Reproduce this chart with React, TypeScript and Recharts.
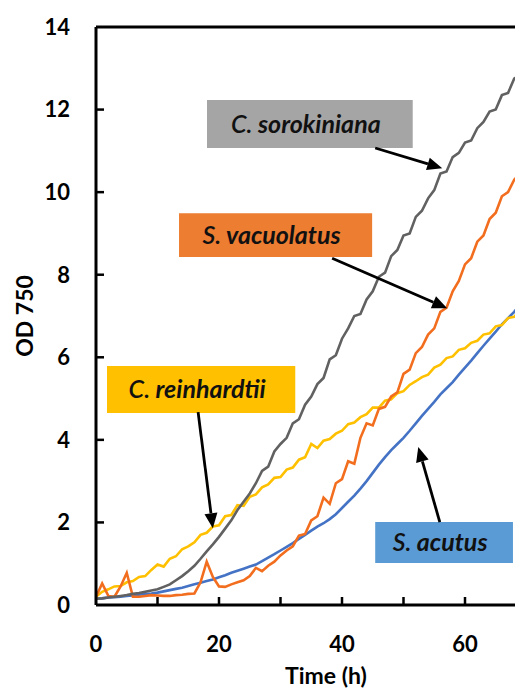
import { LineChart, Line, XAxis, YAxis, ReferenceLine, ReferenceArea } from 'recharts'

// sampling times (h)
const hours = [
  0, 1, 2, 3, 4, 5, 6, 7, 8, 9, 10, 11, 12, 13, 14, 15, 16, 17, 18, 19, 20, 21, 22, 23, 24, 25, 26, 27, 28, 29,
  30, 31, 32, 33, 34, 35, 36, 37, 38, 39, 40, 41, 42, 43, 44, 45, 46, 47, 48, 49, 50, 51, 52, 53, 54, 55, 56, 57, 58,
  59, 60, 61, 62, 63, 64, 65, 66, 67, 68, 69, 70,
]

// OD 750 per strain
const sorokiniana = [
  0.15, 0.16, 0.18, 0.2, 0.22, 0.24, 0.27, 0.29, 0.32, 0.35, 0.38, 0.44, 0.5, 0.6, 0.7, 0.82, 0.95, 1.12, 1.3, 1.47,
  1.65, 1.85, 2.05, 2.3, 2.5, 2.7, 2.95, 3.25, 3.35, 3.72, 3.9, 4.05, 4.4, 4.5, 4.85, 5.05, 5.35, 5.5, 5.95, 6.05, 6.45,
  6.7, 7.0, 7.05, 7.4, 7.6, 7.95, 8.05, 8.45, 8.6, 8.95, 9.0, 9.4, 9.55, 9.85, 10.05, 10.45, 10.5, 10.85, 10.95, 11.2,
  11.25, 11.55, 11.7, 11.95, 12.0, 12.35, 12.4, 12.75, 12.85, 12.75,
]
const vacuolatus = [
  0.2, 0.52, 0.22, 0.2, 0.45, 0.78, 0.2, 0.2, 0.22, 0.24, 0.23, 0.22, 0.22, 0.24, 0.25, 0.27, 0.28, 0.55, 1.05, 0.68,
  0.45, 0.44, 0.5, 0.55, 0.6, 0.7, 0.9, 0.82, 0.95, 1.05, 1.2, 1.32, 1.42, 1.68, 1.72, 2.05, 2.15, 2.6, 2.45, 2.95,
  3.05, 3.48, 3.42, 4.05, 4.4, 4.35, 4.75, 4.8, 5.05, 5.15, 5.6, 5.7, 6.1, 6.25, 6.55, 6.7, 7.1, 7.2, 7.6, 7.85, 8.25,
  8.4, 8.8, 8.95, 9.35, 9.5, 9.9, 10.0, 10.3, 10.45, 10.7,
]
const reinhardtii = [
  0.2, 0.32, 0.38, 0.45, 0.46, 0.55, 0.58, 0.68, 0.7, 0.85, 0.98, 0.93, 1.12, 1.18, 1.35, 1.42, 1.52, 1.7, 1.75, 1.9,
  1.93, 2.15, 2.18, 2.42, 2.4, 2.62, 2.68, 2.85, 2.92, 3.08, 3.1, 3.28, 3.33, 3.52, 3.58, 3.9, 3.8, 3.98, 4.02, 4.15,
  4.22, 4.38, 4.42, 4.55, 4.62, 4.78, 4.78, 4.95, 4.98, 5.13, 5.18, 5.33, 5.42, 5.52, 5.58, 5.75, 5.82, 5.98, 6.02,
  6.18, 6.22, 6.35, 6.4, 6.55, 6.58, 6.75, 6.78, 6.95, 6.98, 7.14, 7.03,
]
const acutus = [
  0.15, 0.16, 0.18, 0.19, 0.2, 0.22, 0.23, 0.25, 0.27, 0.28, 0.3, 0.33, 0.36, 0.39, 0.42, 0.46, 0.5, 0.54, 0.58, 0.62,
  0.67, 0.72, 0.78, 0.83, 0.88, 0.93, 0.98, 1.06, 1.15, 1.23, 1.32, 1.41, 1.5, 1.6, 1.7, 1.8, 1.9, 1.98, 2.08, 2.2,
  2.35, 2.5, 2.65, 2.82, 3.0, 3.2, 3.4, 3.58, 3.75, 3.9, 4.05, 4.22, 4.4, 4.58, 4.75, 4.92, 5.1, 5.25, 5.4, 5.58, 5.75,
  5.92, 6.1, 6.28, 6.45, 6.62, 6.8, 6.95, 7.1, 7.28, 7.4,
]

const xTicks = [0, 10, 20, 30, 40, 50, 60, 70, 80]
const yTicks = [0, 2, 4, 6, 8, 10, 12, 14]

const COLORS = {
  sorokiniana: '#616161',
  vacuolatus: '#F26E1E',
  reinhardtii: '#FFC000',
  acutus: '#4472C4',
}

// callout boxes and arrows, in data units
const callouts = [
  {
    genus: 'C.', species: 'sorokiniana', fill: '#A5A5A5',
    box: [18.05, 51.5, 11.07, 12.23], arrow: [[45.4, 11.07], [56.3, 10.58]],
  },
  {
    genus: 'S.', species: 'vacuolatus', fill: '#ED7D31',
    box: [13.5, 44.9, 8.43, 9.49], arrow: [[38.4, 8.4], [57.1, 7.19]],
  },
  {
    genus: 'C.', species: 'reinhardtii', fill: '#FFC000',
    box: [1.79, 32.4, 4.65, 5.79], arrow: [[16.6, 4.67], [19.0, 1.86]],
  },
  {
    genus: 'S.', species: 'acutus', fill: '#5B9BD5',
    box: [45.4, 67.8, 1.02, 2.01], arrow: [[55.9, 2.01], [52.4, 3.83]],
  },
]

const data = hours.map((t, i) => ({
  t,
  sorokiniana: sorokiniana[i],
  vacuolatus: vacuolatus[i],
  reinhardtii: reinhardtii[i],
  acutus: acutus[i],
}))

const FONT = 'Lato, "Open Sans", sans-serif'

function XTick({ x, y, payload }: any) {
  const v = payload.value
  return (
    <g>
      {v > 0 && <line x1={x} x2={x} y1={y} y2={y - 8} stroke="#000" strokeWidth={2.5} />}
      {v % 20 === 0 && v < 80 && (
        <text x={x} y={y + 47} textAnchor="middle" fontSize={22} fontWeight={700} fontFamily={FONT} fill="#000">
          {v}
        </text>
      )}
    </g>
  )
}

function YTick({ x, y, payload }: any) {
  const v = payload.value
  return (
    <g>
      {v > 0 && v < 14 && <line x1={x} x2={x + 8} y1={y} y2={y} stroke="#000" strokeWidth={2.5} />}
      <text x={x - 26} y={y} dy="0.36em" textAnchor="end" fontSize={22} fontWeight={700} fontFamily={FONT} fill="#000">
        {v}
      </text>
    </g>
  )
}

function AxisTitle({ cx, cy, rotate, text, size }: any) {
  return (
    <text
      x={cx}
      y={cy}
      textAnchor="middle"
      dominantBaseline="central"
      transform={rotate ? `rotate(${rotate} ${cx} ${cy})` : undefined}
      fontSize={size}
      fontWeight={700}
      fontFamily={FONT}
      fill="#000"
    >
      {text}
    </text>
  )
}

function CalloutText({ viewBox, genus, species }: any) {
  const { x, y, width, height } = viewBox
  return (
    <text
      x={x + width / 2 - 4}
      y={y + height / 2}
      dy="0.36em"
      textAnchor="middle"
      fontFamily={FONT}
      fontStyle="italic"
      fontSize={25}
      fill="#111"
    >
      <tspan fontWeight={600}>{genus}</tspan>
      <tspan fontWeight={700}> {species}</tspan>
    </text>
  )
}

function Arrow(props: any) {
  const { x1, y1, x2, y2 } = props
  const ang = Math.atan2(y2 - y1, x2 - x1)
  const len = 15
  const half = 6.5
  const bx = x2 - len * Math.cos(ang)
  const by = y2 - len * Math.sin(ang)
  const px = -Math.sin(ang) * half
  const py = Math.cos(ang) * half
  return (
    <g>
      <line x1={x1} y1={y1} x2={bx} y2={by} stroke="#000" strokeWidth={2.8} />
      <polygon points={`${x2},${y2} ${bx + px},${by + py} ${bx - px},${by - py}`} fill="#000" />
    </g>
  )
}

export default function App() {
  return (
    <div style={{ width: 515, height: 684, overflow: 'hidden' }}>
      <LineChart width={600} height={684} data={data} margin={{ top: 19, right: 20, left: 0, bottom: 27 }}>
        <XAxis
          dataKey="t"
          type="number"
          domain={[0, 80]}
          ticks={xTicks}
          interval={0}
          tickLine={false}
          tickSize={0}
          tickMargin={0}
          tick={<XTick />}
          height={60}
          axisLine={{ stroke: '#000', strokeWidth: 3 }}
          label={<AxisTitle cx={318} cy={667} text="Time (h)" size={23} />}
        />
        <YAxis
          type="number"
          domain={[0, 14]}
          ticks={yTicks}
          interval={0}
          tickLine={false}
          tickSize={0}
          tickMargin={0}
          tick={<YTick />}
          width={88}
          axisLine={{ stroke: '#000', strokeWidth: 3 }}
          label={<AxisTitle cx={16} cy={308} rotate={-90} text="OD 750" size={23} />}
        />
        <ReferenceLine y={14} stroke="#000" strokeWidth={3} ifOverflow="visible" />
        {callouts.map((c) => (
          <ReferenceArea
            key={c.species}
            x1={c.box[0]}
            x2={c.box[1]}
            y1={c.box[2]}
            y2={c.box[3]}
            fill={c.fill}
            fillOpacity={1}
            stroke="none"
            label={<CalloutText genus={c.genus} species={c.species} />}
          />
        ))}
        <Line type="linear" dataKey="acutus" stroke={COLORS.acutus} strokeWidth={2.6} dot={false} isAnimationActive={false} />
        <Line type="linear" dataKey="reinhardtii" stroke={COLORS.reinhardtii} strokeWidth={2.6} dot={false} isAnimationActive={false} />
        <Line type="linear" dataKey="vacuolatus" stroke={COLORS.vacuolatus} strokeWidth={2.6} dot={false} isAnimationActive={false} />
        <Line type="linear" dataKey="sorokiniana" stroke={COLORS.sorokiniana} strokeWidth={2.6} dot={false} isAnimationActive={false} />
        {callouts.map((c) => (
          <ReferenceLine
            key={`arrow-${c.species}`}
            segment={[
              { x: c.arrow[0][0], y: c.arrow[0][1] },
              { x: c.arrow[1][0], y: c.arrow[1][1] },
            ]}
            ifOverflow="visible"
            shape={Arrow}
          />
        ))}
      </LineChart>
    </div>
  )
}
